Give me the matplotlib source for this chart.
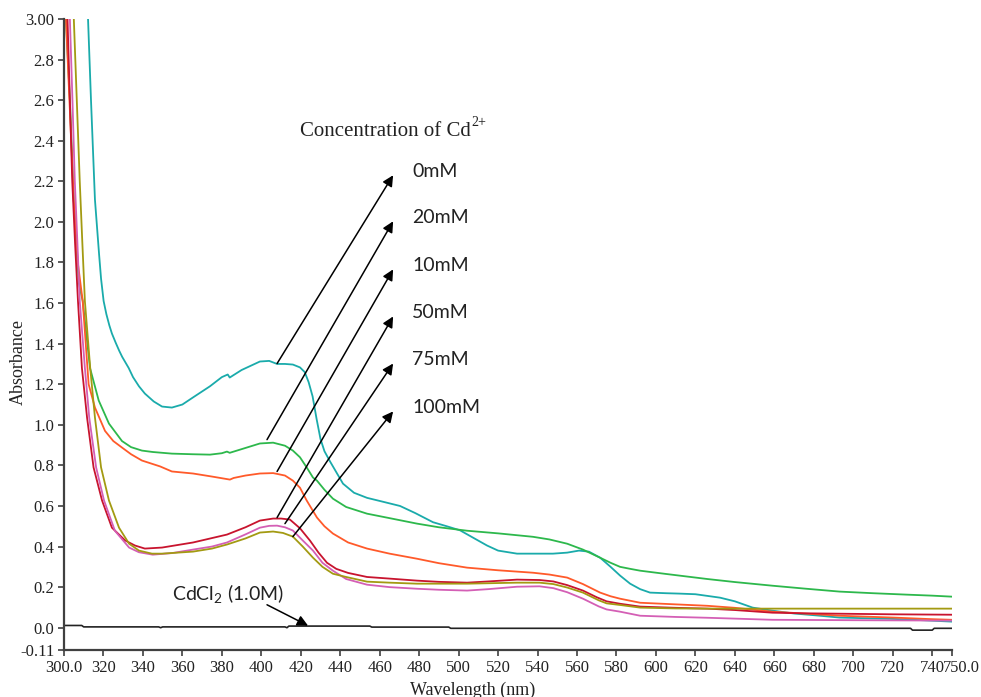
import matplotlib
matplotlib.use('Agg')
import matplotlib.pyplot as plt
from matplotlib.transforms import ScaledTranslation

# UV-Vis spectra, values (wavelength nm / absorbance)
wl_0mM = [312.2, 313.7, 315.7, 317.8, 318.8, 320.1, 321.5, 323.0, 324.3, 326.2, 328.0, 329.5,
          332.8, 335.0, 338.0, 341.0, 345.5, 349.7,
          354.7, 360.0, 365.4, 374.0, 380.0, 383.0, 384.0, 390.0, 399.3, 404.0, 408.0, 412.0,
          416.0, 419.6, 422.0, 424.0, 426.0, 428.0, 430.0, 432.0, 434.8, 441.4, 447.0, 453.6,
          462.0, 470.3, 478.0, 487.0, 494.0, 500.7, 508.0, 514.4, 520.0, 529.6, 540.0, 547.8,
          555.0, 561.0, 566.0, 571.7, 577.0, 581.8, 586.9, 592.0, 597.0, 605.0, 612.0, 620.0,
          632.5, 640.0, 649.0, 659.0, 670.0, 682.0, 693.0, 705.0, 718.6, 735.0, 750.0]
abs_0mM = [3.00, 2.60, 2.11, 1.84, 1.72, 1.61, 1.545, 1.49, 1.45, 1.405, 1.365, 1.335,
           1.28, 1.235, 1.19, 1.154, 1.115, 1.09,
           1.085, 1.10, 1.135, 1.19, 1.235, 1.248, 1.233, 1.27, 1.312, 1.315, 1.30, 1.30,
           1.297, 1.283, 1.26, 1.21, 1.14, 1.03, 0.93, 0.87, 0.82, 0.71, 0.665, 0.64,
           0.62, 0.60, 0.565, 0.52, 0.50, 0.48, 0.44, 0.405, 0.38, 0.365, 0.365, 0.365,
           0.37, 0.38, 0.375, 0.345, 0.30, 0.257, 0.217, 0.19, 0.173, 0.17, 0.168, 0.165,
           0.148, 0.13, 0.099, 0.084, 0.07, 0.06, 0.05, 0.047, 0.044, 0.037, 0.03]

wl_20mM = [301.0, 303.0, 305.0, 307.5, 309.5, 313.2, 317.6, 322.8, 329.4, 334.0, 339.5, 345.0,
           354.7, 365.0, 374.0, 380.0, 382.6, 384.0, 390.0, 399.3, 406.0, 412.0, 416.0, 419.6,
           423.0, 426.2, 428.2, 432.0, 436.3, 443.0, 453.6, 465.0, 478.9, 490.0, 504.3, 520.0,
           537.7, 546.0, 555.0, 563.0, 571.7, 577.0, 581.8, 587.0, 592.0, 605.0, 626.0, 640.0,
           659.0, 675.0, 693.0, 710.0, 727.0, 740.0, 750.0]
abs_20mM = [3.00, 2.60, 2.10, 1.70, 1.61, 1.28, 1.12, 1.006, 0.92, 0.89, 0.873, 0.866,
            0.858, 0.855, 0.853, 0.86, 0.868, 0.862, 0.88, 0.908, 0.912, 0.897, 0.873, 0.84,
            0.79, 0.74, 0.725, 0.68, 0.636, 0.595, 0.562, 0.54, 0.513, 0.495, 0.478, 0.465,
            0.448, 0.435, 0.414, 0.385, 0.345, 0.32, 0.30, 0.29, 0.281, 0.265, 0.24, 0.225,
            0.207, 0.193, 0.178, 0.17, 0.163, 0.158, 0.153]

wl_10mM = [301.0, 303.0, 305.0, 307.0, 309.5, 312.5, 315.7, 320.8, 325.0, 329.4, 334.0, 339.5,
           348.7, 354.7, 365.4, 375.0, 384.1, 386.0, 392.0, 399.3, 406.0, 412.0, 416.0, 419.6,
           423.0, 428.2, 432.0, 436.3, 444.0, 453.6, 465.0, 478.9, 490.0, 504.3, 520.0, 537.7,
           546.0, 555.0, 563.0, 571.7, 577.0, 581.8, 592.0, 610.0, 626.0, 640.0, 659.0, 675.0,
           693.0, 720.0, 740.0, 750.0]
abs_10mM = [3.00, 2.55, 2.10, 1.80, 1.61, 1.20, 1.085, 0.97, 0.92, 0.888, 0.855, 0.824,
            0.795, 0.77, 0.76, 0.745, 0.73, 0.738, 0.75, 0.76, 0.762, 0.75, 0.725, 0.69,
            0.627, 0.543, 0.50, 0.464, 0.42, 0.39, 0.365, 0.34, 0.318, 0.296, 0.283, 0.271,
            0.262, 0.247, 0.215, 0.173, 0.155, 0.143, 0.123, 0.115, 0.108, 0.098, 0.079, 0.07,
            0.059, 0.05, 0.042, 0.039]

wl_50mM = [301.8, 303.0, 304.2, 305.6, 307.1, 309.1, 311.7, 315.0, 319.3, 324.3, 331.0, 336.0,
           341.0, 349.7, 365.4, 382.6, 392.0, 399.3, 406.0, 410.0, 414.5, 419.6, 424.7, 429.0,
           433.3, 438.0, 444.0, 453.6, 465.0, 478.9, 490.0, 504.3, 515.0, 529.6, 541.0, 548.0,
           555.0, 563.0, 570.0, 575.0, 581.8, 592.0, 610.0, 626.0, 640.0, 659.0, 675.0, 693.0,
           720.0, 750.0]
abs_50mM = [3.00, 2.60, 2.20, 1.90, 1.61, 1.28, 1.036, 0.79, 0.627, 0.493, 0.43, 0.405,
            0.39, 0.395, 0.42, 0.459, 0.495, 0.528, 0.538, 0.538, 0.533, 0.49, 0.429, 0.37,
            0.32, 0.29, 0.27, 0.25, 0.242, 0.232, 0.226, 0.222, 0.228, 0.237, 0.235, 0.228,
            0.21, 0.183, 0.15, 0.13, 0.118, 0.104, 0.098, 0.094, 0.087, 0.074, 0.071, 0.069,
            0.066, 0.064]

wl_75mM = [303.0, 304.3, 305.5, 306.8, 308.0, 310.6, 312.8, 316.3, 320.3, 325.8, 333.0, 338.0,
           345.0, 355.0, 365.4, 375.0, 382.6, 392.0, 399.3, 404.0, 408.0, 412.0, 416.0, 421.0,
           426.2, 431.0, 436.3, 443.0, 453.6, 465.0, 478.9, 490.0, 504.3, 515.0, 529.6, 541.0,
           548.0, 555.0, 563.0, 571.0, 575.0, 581.8, 592.0, 610.0, 626.0, 659.0, 700.0, 750.0]
abs_75mM = [3.00, 2.60, 2.20, 1.90, 1.61, 1.28, 1.036, 0.79, 0.627, 0.478, 0.395, 0.372,
            0.36, 0.368, 0.385, 0.40, 0.42, 0.46, 0.493, 0.502, 0.503, 0.495, 0.479, 0.43,
            0.38, 0.32, 0.281, 0.24, 0.212, 0.20, 0.192, 0.187, 0.183, 0.19, 0.202, 0.204,
            0.195, 0.175, 0.143, 0.105, 0.09, 0.079, 0.059, 0.053, 0.049, 0.039, 0.037, 0.035]

wl_100mM = [305.0, 306.5, 308.0, 309.3, 310.6, 313.3, 315.7, 318.8, 322.8, 327.9, 333.0, 338.0,
            344.6, 349.7, 365.4, 375.0, 382.6, 392.0, 399.3, 406.0, 411.0, 416.0, 421.0, 426.2,
            431.0, 436.3, 443.0, 453.6, 465.0, 478.9, 504.3, 529.6, 541.0, 548.0, 555.0, 563.0,
            571.0, 575.0, 581.8, 592.0, 610.0, 626.0, 750.0]
abs_100mM = [3.00, 2.60, 2.20, 1.90, 1.61, 1.28, 1.036, 0.79, 0.627, 0.493, 0.414, 0.38,
             0.365, 0.365, 0.375, 0.39, 0.41, 0.44, 0.469, 0.474, 0.467, 0.449, 0.40, 0.345,
             0.30, 0.266, 0.25, 0.227, 0.222, 0.217, 0.217, 0.222, 0.222, 0.215, 0.198, 0.173,
             0.135, 0.12, 0.112, 0.099, 0.095, 0.094, 0.094]

wl_cdcl2 = [300.0, 309.0, 310.0, 348.0, 349.0, 350.0, 412.0, 413.0, 414.0, 455.0, 456.0, 495.0,
            496.0, 729.0, 730.0, 740.0, 741.0, 750.0]
abs_cdcl2 = [0.011, 0.011, 0.004, 0.004, 0.0, 0.004, 0.004, 0.0, 0.008, 0.008, 0.003, 0.003,
             -0.003, -0.003, -0.012, -0.012, -0.003, -0.003]

labels = ['0mM', '20mM', '10mM', '50mM', '75mM', '100mM']
colors = ['#1AABAB', '#2DB84C', '#FF5A2A', '#C8142E', '#D45FB5', '#A39A12']

# arrow tails sit on the peak of each curve, heads next to the labels
tail_wl = [408.0, 402.9, 408.0, 408.0, 412.0, 416.0]
tail_abs = [1.302, 0.927, 0.77, 0.543, 0.513, 0.449]
head_wl = 466.8
head_abs = [2.23, 2.003, 1.766, 1.534, 1.302, 1.066]
label_wl = 476.4
label_abs = [2.25, 2.023, 1.786, 1.554, 1.322, 1.085]

x_ticks = [300] + list(range(320, 741, 20)) + [750]
x_tick_labels = ['300.0'] + [str(v) for v in range(320, 741, 20)] + ['750.0']
y_ticks = [-0.11, 0.0, 0.2, 0.4, 0.6, 0.8, 1.0, 1.2, 1.4, 1.6, 1.8, 2.0, 2.2, 2.4, 2.6, 2.8, 3.0]
y_tick_labels = ['-0.11', '0.0'] + ['%.1f' % v for v in y_ticks[2:-1]] + ['3.00']

plt.rcParams['mathtext.default'] = 'regular'
serif = 'Liberation Serif'
sans = 'Lato'

fig = plt.figure(figsize=(9.81, 6.97), dpi=100)
ax = fig.add_axes([0.0652, 0.0674, 0.9052, 0.9053])

series = [(wl_0mM, abs_0mM), (wl_20mM, abs_20mM), (wl_10mM, abs_10mM),
          (wl_50mM, abs_50mM), (wl_75mM, abs_75mM), (wl_100mM, abs_100mM)]
for (wl, ab), color in zip(series, colors):
    ax.plot(wl, ab, color=color, lw=1.3)
ax.plot(wl_cdcl2, abs_cdcl2, color='#222222', lw=1.2)

ax.set_xlim(300, 750)
ax.set_ylim(-0.11, 3.0)

# axes styling: only left / bottom spines, outward ticks
for side in ['top', 'right']:
    ax.spines[side].set_visible(False)
for side in ['left', 'bottom']:
    ax.spines[side].set_color('#404040')
    ax.spines[side].set_linewidth(1.6)
ax.set_xticks(x_ticks)
ax.set_xticklabels(x_tick_labels, fontfamily=serif, fontsize=12)
ax.set_yticks(y_ticks)
ax.set_yticklabels(y_tick_labels, fontfamily=serif, fontsize=12)
ax.tick_params(direction='out', length=4, width=1.2, color='#404040', labelcolor='#222222', pad=3)

# last tick label sits just right of "740", as in the original
last = ax.get_xticklabels()[-1]
last.set_horizontalalignment('left')
last.set_fontsize(11.8)
last.set_transform(last.get_transform() + ScaledTranslation(-9 / 100, 0, fig.dpi_scale_trans))

fig.text(18 / 981, 1 - 362 / 697, 'Absorbance', rotation=90, ha='center', va='center',
         fontfamily=serif, fontsize=13, color='#222222')
fig.text(473 / 981, 1 - 690 / 697, 'Wavelength (nm)', ha='center', va='center',
         fontfamily=serif, fontsize=13, color='#222222')

title = fig.text(300 / 981, 1 - 131 / 697, 'Concentration of Cd', ha='left', va='center',
                 fontfamily=serif, fontsize=15, color='#222222')
ax.annotate('2+', xy=(1.0, 0.62), xycoords=title, ha='left', va='bottom',
            fontfamily=serif, fontsize=10, color='#222222')

for i in range(len(labels)):
    ax.annotate('', xy=(head_wl, head_abs[i]), xytext=(tail_wl[i], tail_abs[i]),
                arrowprops=dict(arrowstyle='-|>', color='black', lw=1.1,
                                mutation_scale=16, shrinkA=0, shrinkB=0))
    ax.text(label_wl, label_abs[i], labels[i], ha='left', va='center',
            fontfamily=sans, fontsize=14, color='#222222')

ax.annotate('', xy=(423.7, 0.01), xytext=(402.9, 0.113),
            arrowprops=dict(arrowstyle='-|>', color='black', lw=1.1,
                            mutation_scale=16, shrinkA=0, shrinkB=0))
ax.text(383.1, 0.168, 'CdCl$_2$ (1.0M)', ha='center', va='center',
        fontfamily=sans, fontsize=14, color='#222222')

plt.savefig('out.png', dpi=100)
